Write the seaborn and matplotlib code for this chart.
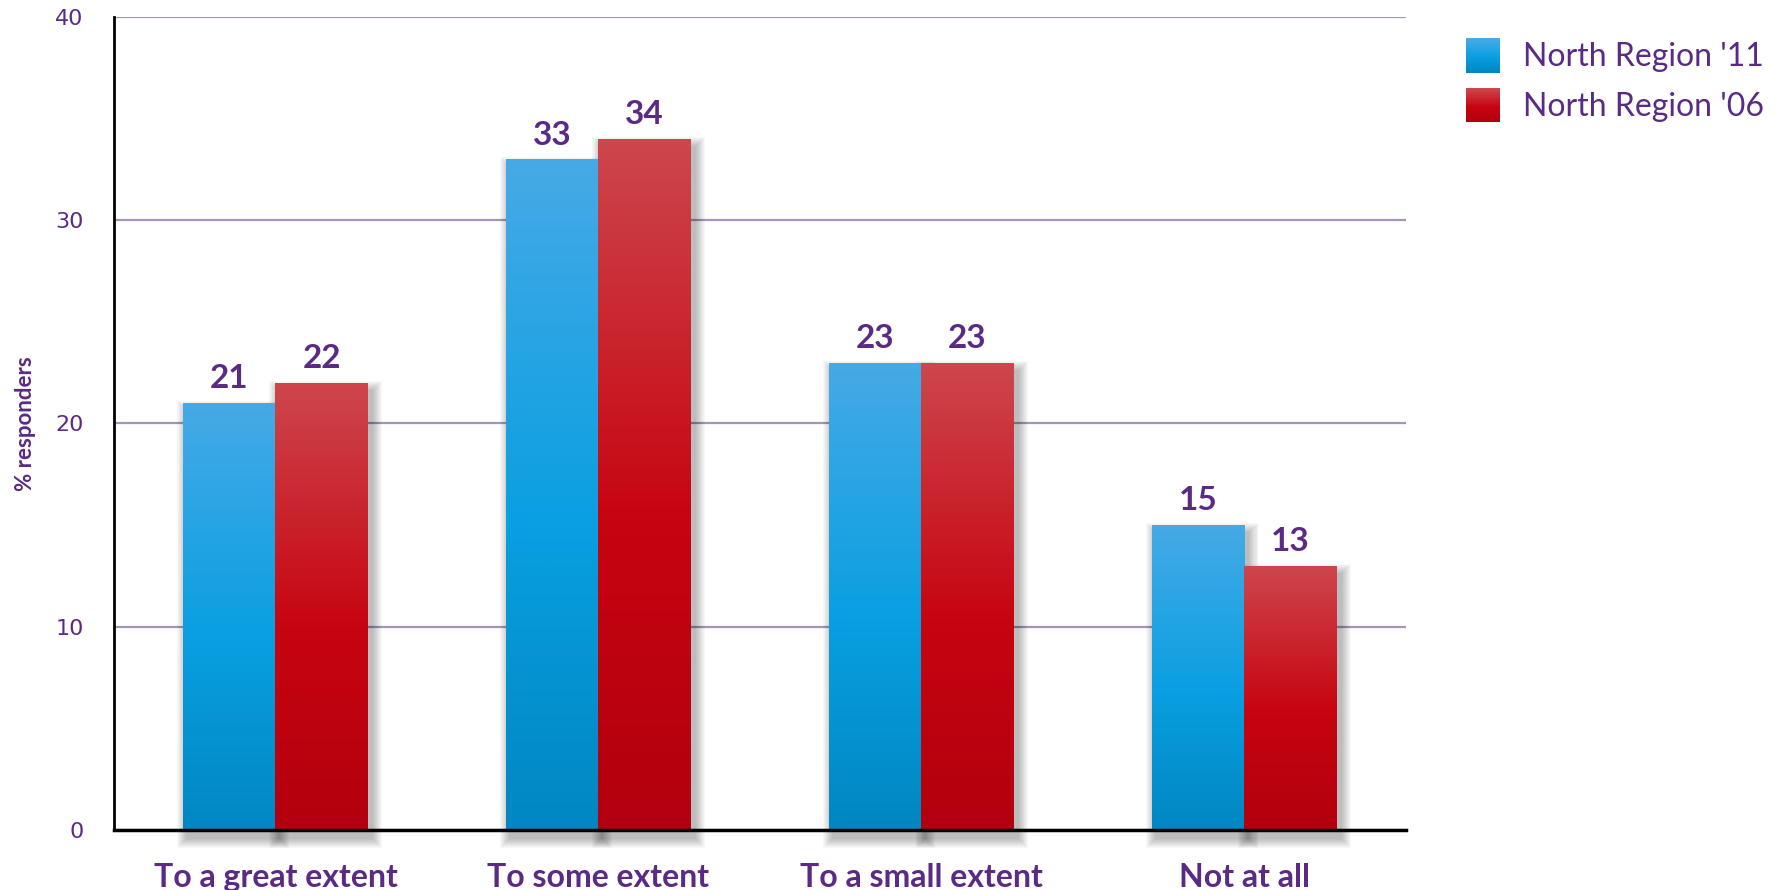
import numpy as np
import pandas as pd
import matplotlib
matplotlib.use("Agg")
import matplotlib.pyplot as plt
from matplotlib.colors import LinearSegmentedColormap
from matplotlib.patches import Patch, Rectangle
from matplotlib.legend_handler import HandlerBase
import seaborn as sns

# ---- data -------------------------------------------------------------
categories = ["To a great extent", "To some extent", "To a small extent", "Not at all"]
series_names = ["North Region '11", "North Region '06"]
values_2011 = [21, 33, 23, 15]
values_2006 = [22, 34, 23, 13]
y_ticks = [0, 10, 20, 30, 40]
y_label = "% responders"

# ---- styling ----------------------------------------------------------
PURPLE = "#5a2a84"
GRID = "#a394b8"
blue_stops = ["#46aae6", "#099fe1", "#0087c2"]
red_stops = ["#cd474d", "#c70411", "#b3000e"]
mid_colors = [blue_stops[1], red_stops[1]]

sns.set_theme(style="white")
plt.rcParams["font.family"] = ["Lato", "DejaVu Sans"]

df = pd.DataFrame({
    "category": categories * 2,
    "series": [series_names[0]] * 4 + [series_names[1]] * 4,
    "value": values_2011 + values_2006,
})

cmaps = [LinearSegmentedColormap.from_list("b", list(zip([0, 0.55, 1], blue_stops))),
         LinearSegmentedColormap.from_list("r", list(zip([0, 0.55, 1], red_stops)))]

fig = plt.figure(figsize=(17.9, 8.9), dpi=100)
ax = fig.add_axes([114 / 1790, 1 - 830 / 890, (1406 - 114) / 1790, (830 - 17) / 890])

sns.barplot(data=df, x="category", y="value", hue="series",
            order=categories, hue_order=series_names,
            palette=mid_colors, width=0.57, gap=0, legend=False,
            errorbar=None, saturation=1, ax=ax, zorder=3, linewidth=0)

ax.set_xlim(-0.5, len(categories) - 0.5)
ax.set_ylim(0, 40)
xlim, ylim = ax.get_xlim(), ax.get_ylim()

# data units per pixel, used for the soft drop shadows
ux = (xlim[1] - xlim[0]) / (1406 - 114)
uy = (ylim[1] - ylim[0]) / (830 - 17)

grad = np.linspace(0, 1, 256).reshape(-1, 1)

for i, container in enumerate(ax.containers):
    for bar in container:
        bar.set_linewidth(0)
        x0, w, h = bar.get_x(), bar.get_width(), bar.get_height()
        # soft shadow: stacked translucent rectangles, offset down-right
        for k in range(10, 0, -1):
            sh = Rectangle((x0 + 4 * ux - k * ux, -8 * uy - k * uy),
                           w + 2 * k * ux, h + 2 * k * uy,
                           facecolor="black", alpha=0.028, linewidth=0,
                           zorder=2.5, clip_on=False)
            ax.add_patch(sh)
        # vertical gradient fill clipped to the bar
        im = ax.imshow(grad, cmap=cmaps[i], aspect="auto",
                       extent=[x0, x0 + w, 0, h], origin="upper",
                       zorder=3.1 + i * 0.01, interpolation="bilinear")
        im.set_clip_path(bar)
    ax.bar_label(container, fmt="%d", padding=7, color=PURPLE,
                 fontsize=24, fontweight="bold", zorder=5)

ax.set_xlim(xlim)
ax.set_ylim(ylim)

# grid and spines
ax.set_yticks(y_ticks)
ax.yaxis.grid(True, color=GRID, linewidth=1.6, zorder=1)
ax.xaxis.grid(False)
ax.set_axisbelow(True)
for side in ("top", "right"):
    ax.spines[side].set_visible(False)
for side, lw in (("left", 2), ("bottom", 2.5)):
    ax.spines[side].set_color("black")
    ax.spines[side].set_linewidth(lw)
    ax.spines[side].set_zorder(6)

ax.tick_params(axis="y", length=0, pad=22, labelsize=16, labelcolor=PURPLE)
ax.tick_params(axis="x", length=0, pad=24, labelsize=23, labelcolor=PURPLE)
for lbl in ax.get_yticklabels():
    lbl.set_fontfamily("DejaVu Sans")
for lbl in ax.get_xticklabels():
    lbl.set_fontweight("bold")

ax.set_xlabel("")
ax.set_ylabel(y_label, color=PURPLE, fontsize=16, fontweight="bold", labelpad=14)


class GradientSwatch(HandlerBase):
    """Legend key drawn as a stack of thin bands forming a vertical gradient."""

    def __init__(self, cmap, n=24):
        super().__init__()
        self.cmap, self.n = cmap, n

    def create_artists(self, legend, orig_handle, xdescent, ydescent,
                       width, height, fontsize, trans):
        side = height
        x0 = -xdescent
        y0 = -ydescent
        bands = []
        for j in range(self.n):
            t = j / (self.n - 1)
            bands.append(Rectangle((x0, y0 + side * (1 - (j + 1) / self.n)),
                                   side, side / self.n + 0.3,
                                   facecolor=self.cmap(t), edgecolor="none",
                                   transform=trans))
        return bands


handles = [Patch(facecolor=c, edgecolor="none") for c in mid_colors]
fig.legend(handles, series_names, loc="upper left",
           bbox_to_anchor=(1437 / 1790, 1 - 10 / 890), frameon=False,
           fontsize=23, labelcolor=PURPLE, handlelength=1.25, handleheight=1.25,
           handletextpad=0.55, labelspacing=0.5,
           handler_map={handles[0]: GradientSwatch(cmaps[0]),
                        handles[1]: GradientSwatch(cmaps[1])})

fig.savefig("out.png", dpi=100)
